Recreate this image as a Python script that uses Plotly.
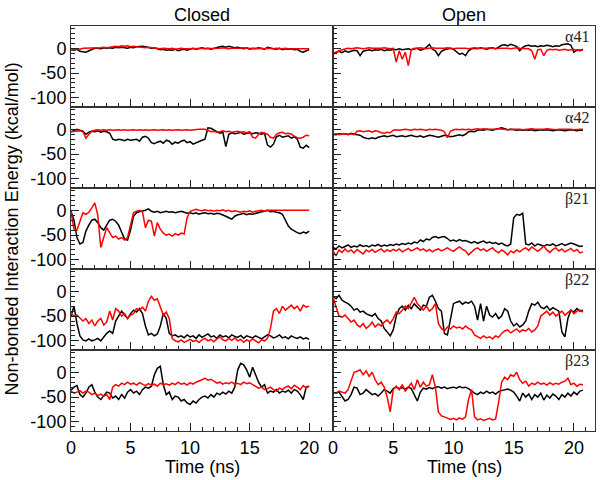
import numpy as np
import plotly.graph_objects as go
from plotly.subplots import make_subplots

# ---------------- data (kcal/mol), sampled every 0.25 ns ----------------
step_ns = 0.25
panel_labels = ["\u03b141", "\u03b142", "\u03b221", "\u03b222", "\u03b223"]
column_titles = ["Closed", "Open"]
y_tick_vals = [-100, -50, 0]
y_tick_text = ["-100", "-50", "0"]
x_tick_vals = [0, 5, 10, 15, 20]

# Closed (0 - 20 ns)
closed_a41_black = [-3, -4, -2, -6, -7, -8, -5, -2, 0, 0, -1, 1, 0, 1, 0, 2, 1, 2, 1, 0, 2, 1, 3, 4, 4,
                    3, 2, 0, 1, -1, -3, -2, -4, -3, -4, -2, -5, -3, -2, -4, -2, 0, -2, -1, 1, -1, 0, -2, 0,
                    2, 3, 4, 2, 4, 3, 1, 2, 0, -1, 1, -2, 0, -1, 1, 0, -2, 2, 0, -1, -2, 0, -3, -1, -2, -1,
                    -3, -2, -6, -8, -5, -3]
closed_a41_red = [-2, -3, -1, -2, 0, 0, 1, 0, 1, 0, 1, 2, 1, 2, 3, 4, 3, 5, 4, 5, 3, 4, 3, 2, 2,
                  1, 2, 1, 0, 0, -1, 0, -1, -1, 0, -2, -1, 0, -1, -1, 0, -1, 0, -1, -1, 0, -1, 0, 0,
                  -1, 0, 1, 0, -1, 0, 0, -1, 0, 1, 0, -1, -1, 0, -1, 0, -1, 0, -1, -1, 0, -1, -1, 0,
                  -1, -2, -1, -1, -2, -1, -2, -1]
closed_a42_black = [-5, -3, 0, -2, -4, -10, -6, -4, -5, -3, -6, -4, -5, -8, -20, -22, -20, -21, -23, -20, -22,
                    -21, -20, -24, -16, -14, -18, -27, -29, -26, -24, -28, -22, -24, -30, -26, -28, -24, -22,
                    -27, -25, -30, -27, -24, -22, -20, 3, 2, -2, -5, -8, -6, -35, -10, -7, -9, -8, -6, -10,
                    -8, -7, -9, -7, -8, -10, -8, -32, -36, -30, -15, -12, -16, -14, -13, -18, -15, -20,
                    -36, -38, -32, -37]
closed_a42_red = [-5, -4, -3, -3, -5, -18, -10, -4, -2, -1, -2, -1, -2, -1, -2, -1, -1, -2, -1, -2, -1,
                  -1, -2, -1, -2, -1, -2, -1, -1, -2, -1, -1, -2, -1, -2, -1, -1, -2, -1, -1, -2, -1, -1,
                  0, 0, 0, -2, -5, -4, -6, -5, -3, -5, -4, -6, -5, -4, -6, -5, -7, -5, -16, -18, -10, -6,
                  -8, -10, -16, -18, -10, -7, -6, -9, -8, -10, -14, -17, -18, -16, -12, -13]
closed_b21_black = [-2, -20, -55, -68, -65, -42, -30, -20, -18, -25, -35, -40, -30, -20, -18, -22, -30, -45,
                    -58, -60, -40, -12, -5, -3, -2, 0, 3, -2, -4, -2, -5, -3, -2, -4, -3, -5, -3, -2, -4,
                    -6, -5, -7, -5, -8, -6, -5, -7, -6, -8, -6, -7, -9, -12, -15, -18, -12, -9, -8, -6, -9,
                    -7, -8, -6, -5, -3, -2, 0, -3, -2, -4, -5, -8, -20, -32, -38, -42, -45, -47, -44, -46,
                    -42]
closed_b21_red = [-3, -38, -40, -20, -5, -8, -4, 5, 15, -10, -75, -55, -35, -45, -55, -52, -58, -55, -60,
                  -55, -30, -5, -2, 0, -3, -35, -20, -22, -52, -25, -38, -46, -50, -48, -52, -47, -50,
                  -46, -48, -15, -2, 0, 2, 0, -1, 1, -1, 0, -2, 0, -1, 1, -2, 0, -3, -1, -2, -4, -2, -3,
                  -1, -4, -2, -1, 0, -2, 0, 0, 0, 0, 0, 0, 0, 0, 0, 0, 0, 0, 0, 0, 0]
closed_b22_black = [-50, -30, -65, -90, -98, -100, -96, -100, -98, -95, -100, -92, -85, -80, -85, -60, -50,
                    -40, -48, -55, -45, -38, -42, -35, -45, -70, -88, -85, -90, -86, -70, -45, -55, -85,
                    -90, -88, -92, -90, -94, -88, -92, -90, -95, -88, -93, -90, -86, -92, -90, -95, -88,
                    -92, -90, -94, -88, -91, -93, -89, -95, -90, -92, -94, -90, -93, -96, -92, -88, -90,
                    -94, -92, -88, -94, -92, -96, -90, -93, -95, -92, -96, -94, -97]
closed_b22_red = [-45, -50, -48, -55, -60, -55, -65, -58, -70, -60, -55, -68, -62, -40, -58, -35, -40, -50,
                  -45, -55, -48, -45, -35, -38, -32, -40, -20, -10, -18, -15, -30, -48, -42, -55, -95,
                  -100, -102, -98, -103, -100, -97, -101, -99, -103, -98, -95, -100, -97, -102, -96, -92,
                  -98, -100, -95, -99, -94, -100, -97, -103, -98, -101, -96, -100, -104, -98, -100, -95,
                  -75, -40, -35, -45, -30, -38, -32, -28, -35, -30, -40, -28, -32, -30]
closed_b23_black = [-36, -30, -27, -45, -50, -42, -30, -25, -40, -50, -55, -48, -40, -42, -52, -48, -55, -45,
                    -52, -40, -35, -42, -38, -45, -35, -30, -32, -28, -5, 8, 12, -25, -45, -40, -55, -48,
                    -50, -58, -55, -62, -65, -58, -62, -55, -50, -48, -52, -45, -50, -42, -45, -40, -44,
                    -38, -42, -30, 5, 18, 15, 5, -10, 10, -5, -20, -30, -25, -42, -38, -40, -35, -42, -38,
                    -40, -36, -42, -35, -38, -45, -55, -30, -28]
closed_b23_red = [-38, -42, -40, -37, -42, -38, -40, -45, -42, -47, -44, -48, -45, -55, -30, -25, -28, -22,
                  -25, -20, -24, -22, -26, -21, -24, -27, -23, -26, -24, -28, -22, -25, -23, -26, -22, -25,
                  -20, -24, -22, -26, -21, -24, -20, -18, -15, -12, -16, -14, -18, -22, -20, -24, -21, -23,
                  -20, -24, -22, -25, -20, -23, -21, -25, -28, -32, -30, -35, -33, -30, -35, -38, -32,
                  -35, -30, -28, -33, -26, -30, -35, -27, -32, -28]

# Open (0 - 20.75 ns)
open_a41_black = [-12, -8, -6, -9, -5, -8, -6, -4, -5, -15, -6, -4, -3, -5, -3, -4, -2, -5, -3, -4, -2, -3,
                  -1, -3, -2, -1, -3, -2, 0, -4, -2, 2, 8, -2, -5, -15, -6, -3, -2, 0, -2, -8, -12, -10,
                  -15, -5, -1, 0, -1, 1, 0, -2, 0, 1, -1, 2, 6, 7, 5, 8, 6, 4, -5, 2, 5, 6, 4, 5, 3, 5, 4,
                  6, 5, 3, 5, 4, 7, 8, 9, 6, -8, -3, -5, -2]
open_a41_red = [-12, -8, -5, -3, -1, 0, -1, 0, 1, 0, -1, 0, 1, 0, 0, -1, 0, 1, 0, -1, 0, -28, -5, -22, -8,
                -35, -3, 0, 0, 1, 0, -1, 0, 1, 0, 0, -1, 0, 1, 0, -1, 0, 0, 1, 0, -1, 0, 1, 0, 0, -1, 0,
                1, 0, -1, 0, 0, 1, 0, -1, 0, 1, 0, 0, 0, -1, -5, -22, -3, -2, -15, -4, -2, -3, -2, -4, -3,
                -2, -4, -3, -2, -5, -3, -4]
open_a42_black = [-10, -11, -9, -10, -9, -11, -8, -10, -11, -12, -16, -18, -19, -17, -19, -16, -15, -13, -15,
                  -14, -12, -15, -14, -13, -15, -14, -12, -14, -15, -13, -16, -14, -12, -13, -15, -16, -14,
                  -12, -13, -15, -14, -12, -11, -13, -10, -5, -4, -5, -2, -1, -2, 0, -1, -2, 0, 1, 3, 1,
                  -1, 0, -1, -2, -1, -2, -1, -2, -1, -3, -2, -1, -2, -1, -2, -3, -2, -1, -2, -3, -2, -1,
                  -2, -3, -2, -2]
open_a42_red = [-10, -9, -11, -10, -9, -10, -9, -11, -4, -3, -5, -4, -3, -6, -3, -4, -7, -8, -6, -7, -2, -1,
                -2, -1, 0, -1, -2, 0, -1, 0, -1, -2, 0, -1, 0, -1, -2, -5, -17, -4, -1, 0, -1, 0, -1, 0,
                -1, 0, 1, 0, 1, 0, 0, -1, 0, 1, 0, 0, -1, 0, 0, 1, 0, -1, 0, 0, 1, 0, 0, -1, 0, 1, 0, 0,
                -1, 0, 0, 1, 0, 0, -1, 0, 0, 0]
open_b21_black = [-75, -78, -72, -76, -73, -70, -75, -72, -74, -70, -73, -71, -74, -70, -72, -69, -73, -70,
                  -72, -69, -71, -68, -70, -67, -69, -66, -68, -64, -66, -60, -63, -58, -60, -55, -53, -56,
                  -54, -53, -57, -62, -60, -63, -59, -62, -61, -64, -66, -63, -67, -64, -62, -66, -64, -67,
                  -65, -69, -66, -70, -72, -68, -15, -8, -10, -6, -68, -70, -66, -72, -68, -70, -73, -69,
                  -71, -68, -72, -70, -67, -71, -69, -66, -68, -70, -73, -72]
open_b21_red = [-82, -92, -80, -85, -78, -84, -80, -86, -79, -83, -88, -80, -84, -79, -85, -81, -78, -84, -80,
                -83, -79, -82, -78, -84, -80, -77, -82, -79, -76, -81, -78, -83, -79, -84, -80, -78, -82,
                -79, -76, -80, -83, -78, -74, -79, -82, -90, -85, -79, -76, -81, -78, -83, -79, -76, -82,
                -86, -80, -84, -90, -82, -86, -80, -84, -79, -76, -81, -74, -79, -83, -78, -72, -80, -85,
                -79, -76, -82, -78, -84, -80, -77, -83, -79, -86, -84]
open_b22_black = [-10, -15, -8, -18, -22, -25, -30, -38, -35, -42, -40, -45, -48, -50, -45, -55, -60, -75, -82,
                  -90, -78, -50, -35, -30, -38, -28, -35, -25, -32, -38, -28, -30, -12, -8, -20, -35, -40,
                  -85, -88, -55, -25, -22, -20, -26, -22, -24, -20, -30, -58, -25, -60, -30, -48, -52, -45,
                  -55, -50, -35, -40, -60, -70, -65, -72, -68, -60, -40, -25, -28, -22, -32, -35, -30, -38,
                  -33, -36, -40, -82, -92, -55, -38, -42, -35, -40, -38]
open_b22_red = [-12, -30, -50, -52, -48, -55, -62, -58, -68, -72, -65, -75, -70, -62, -72, -66, -70, -62, -58,
                -65, -55, -42, -45, -38, -30, -35, -22, -12, -25, -32, -38, -30, -40, -35, -25, -65, -75,
                -80, -72, -76, -70, -74, -72, -76, -70, -75, -78, -88, -92, -95, -90, -94, -92, -96, -90,
                -93, -85, -80, -78, -84, -80, -76, -82, -78, -80, -75, -82, -78, -70, -50, -45, -40, -48,
                -42, -50, -45, -40, -48, -42, -38, -45, -40, -38, -42]
open_b23_black = [-40, -42, -40, -48, -58, -55, -45, -30, -32, -45, -42, -35, -40, -45, -43, -48, -42, -35,
                  -38, -42, -33, -30, -33, -31, -34, -30, -33, -45, -58, -40, -32, -34, -31, -33, -30, -29,
                  -32, -30, -33, -31, -30, -32, -29, -31, -30, -33, -38, -42, -45, -40, -43, -38, -42, -40,
                  -44, -39, -37, -35, -34, -36, -40, -48, -58, -42, -50, -44, -55, -45, -50, -42, -56, -46,
                  -52, -44, -48, -55, -45, -50, -42, -48, -40, -45, -38, -36]
open_b23_red = [-40, -42, -38, -40, -42, -35, -15, 0, 2, 5, -5, 3, -8, 0, -15, -25, -20, -30, -50, -80, -35,
                -28, -35, -25, -38, -30, -22, -35, -15, -30, -20, -28, -25, -5, -30, -80, -88, -90, -92,
                -95, -93, -96, -92, -95, -90, -55, -35, -90, -96, -94, -97, -95, -93, -96, -94, -60, -20,
                -10, -15, -5, -8, 0, -15, -22, -18, -28, -22, -25, -20, -24, -22, -26, -21, -25, -22, -24,
                -20, -18, -12, -25, -22, -28, -24, -25]

closed_series = [
    (closed_a41_black, closed_a41_red),
    (closed_a42_black, closed_a42_red),
    (closed_b21_black, closed_b21_red),
    (closed_b22_black, closed_b22_red),
    (closed_b23_black, closed_b23_red),
]
open_series = [
    (open_a41_black, open_a41_red),
    (open_a42_black, open_a42_red),
    (open_b21_black, open_b21_red),
    (open_b22_black, open_b22_red),
    (open_b23_black, open_b23_red),
]

# ---------------- figure ----------------
FONT = "Liberation Sans, Arial, Helvetica, sans-serif"
SERIF = "Liberation Serif, Times New Roman, serif"

fig = make_subplots(rows=5, cols=2, horizontal_spacing=0, vertical_spacing=0)


def add_pair(row, col, black, red):
    for vals, color in ((black, "black"), (red, "#ff0000")):
        t = np.arange(len(vals)) * step_ns
        fig.add_trace(go.Scatter(x=t, y=vals, mode="lines",
                                 line=dict(color=color, width=1.5),
                                 showlegend=False, hoverinfo="skip"),
                      row=row, col=col)


for r in range(5):
    add_pair(r + 1, 1, *closed_series[r])
    add_pair(r + 1, 2, *open_series[r])

x_ranges = {1: [0, 22.0], 2: [0, 21.75]}
for r in range(1, 6):
    for c in (1, 2):
        fig.update_xaxes(range=x_ranges[c], tickmode="array", tickvals=x_tick_vals,
                         ticks="inside", ticklen=8, tickwidth=1, tickcolor="#222",
                         minor=dict(ticks="inside", tickmode="linear", tick0=0, dtick=1,
                                    ticklen=4, tickcolor="#222"),
                         showline=True, linecolor="#333", linewidth=1, mirror=True,
                         showgrid=False, zeroline=False, automargin=False,
                         showticklabels=(r == 5),
                         tickfont=dict(family=FONT, size=18, color="black"),
                         row=r, col=c)
        fig.update_yaxes(range=[-118.5, 45], tickmode="array", tickvals=y_tick_vals,
                         ticktext=y_tick_text,
                         ticks="inside", ticklen=8, tickwidth=1, tickcolor="#222",
                         minor=dict(ticks="inside", tickmode="linear", tick0=0, dtick=10,
                                    ticklen=4, tickcolor="#222"),
                         showline=True, linecolor="#333", linewidth=1, mirror=True,
                         showgrid=False, zeroline=False, automargin=False,
                         showticklabels=(c == 1),
                         tickfont=dict(family=FONT, size=18, color="black"),
                         row=r, col=c)

annotations = []
for i, title in enumerate(column_titles):
    annotations.append(dict(text=title, x=0.25 + 0.5 * i, y=1.0, xref="paper", yref="paper",
                            xanchor="center", yanchor="bottom", yshift=-1, showarrow=False,
                            font=dict(family=FONT, size=18, color="black")))
    annotations.append(dict(text="Time (ns)", x=0.25 + 0.5 * i, y=-0.0889, xref="paper", yref="paper",
                            xanchor="center", yanchor="middle", showarrow=False,
                            font=dict(family=FONT, size=18, color="black")))

annotations.append(dict(text="Non-bonded Interaction Energy (kcal/mol)", x=-0.1126, y=0.5,
                        xref="paper", yref="paper", xanchor="center", yanchor="middle",
                        textangle=-90, showarrow=False,
                        font=dict(family=FONT, size=18, color="black")))

for r, lab in enumerate(panel_labels):
    axis_idx = 2 * r + 2
    annotations.append(dict(text=lab, x=0.985, y=1.0,
                            xref=f"x{axis_idx} domain", yref=f"y{axis_idx} domain",
                            xanchor="right", yanchor="top", yshift=0, showarrow=False,
                            font=dict(family=SERIF, size=16, color="#222")))

fig.update_layout(width=601, height=480, margin=dict(l=71, r=6, t=26, b=49),
                  paper_bgcolor="white", plot_bgcolor="white",
                  annotations=annotations,
                  font=dict(family=FONT, size=18, color="black"))

fig.write_html("out.html", config={"displayModeBar": False},
               post_script="document.body.style.margin='0';document.body.style.overflow='hidden';")
